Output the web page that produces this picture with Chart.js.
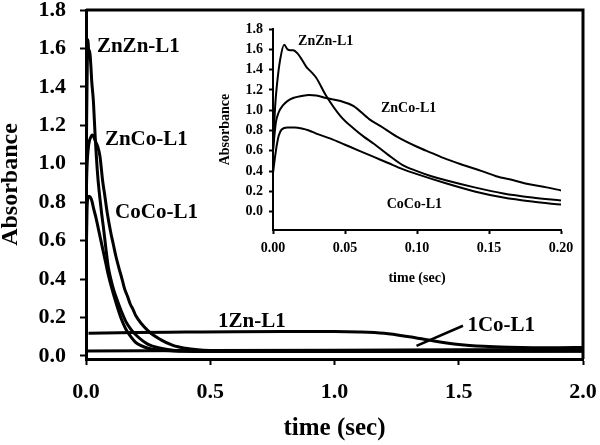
<!DOCTYPE html>
<html>
<head>
<meta charset="utf-8">
<script src="https://cdn.jsdelivr.net/npm/chart.js@4.4.1/dist/chart.umd.min.js"></script>
<style>
  html, body { margin: 0; padding: 0; background: #fff; }
  #wrap { position: relative; width: 600px; height: 445px; }
  #main { position: absolute; left: 0; top: 0; }
  #inset { position: absolute; left: 215px; top: 10px; }
</style>
</head>
<body>
<div id="wrap">
  <canvas id="main" width="600" height="445"></canvas>
  <canvas id="inset" width="360" height="285"></canvas>
</div>
<script>
// time (sec) / absorbance
const znznTime = [0, 0.0015, 0.0026, 0.005, 0.0078, 0.01, 0.012, 0.014, 0.017, 0.02, 0.023, 0.027, 0.03, 0.037, 0.047, 0.056, 0.063, 0.07, 0.08, 0.09, 0.1, 0.11, 0.12, 0.14, 0.16, 0.18, 0.2, 0.25, 0.3, 0.35, 0.4, 0.5, 1.0, 1.5, 2.0]
const znznAbs = [0.6, 1.04, 1.23, 1.5, 1.645, 1.6, 1.59, 1.59, 1.56, 1.5, 1.43, 1.37, 1.32, 1.14, 0.94, 0.82, 0.74, 0.67, 0.56, 0.46, 0.4, 0.35, 0.31, 0.24, 0.18, 0.14, 0.11, 0.06, 0.04, 0.03, 0.026, 0.024, 0.023, 0.024, 0.025]

const zncoTime = [0, 0.002, 0.004, 0.007, 0.01, 0.014, 0.02, 0.025, 0.03, 0.037, 0.047, 0.056, 0.067, 0.075, 0.086, 0.1, 0.11, 0.12, 0.132, 0.145, 0.155, 0.167, 0.178, 0.19, 0.2, 0.25, 0.3, 0.35, 0.4, 0.45, 0.5, 0.6, 1.0, 1.5, 2.0]
const zncoAbs = [0.6, 0.88, 0.98, 1.05, 1.09, 1.12, 1.14, 1.15, 1.145, 1.12, 1.09, 1.04, 0.91, 0.84, 0.74, 0.64, 0.58, 0.52, 0.46, 0.4, 0.35, 0.31, 0.27, 0.24, 0.21, 0.13, 0.085, 0.055, 0.04, 0.032, 0.028, 0.025, 0.024, 0.025, 0.026]

const cocoTime = [0, 0.002, 0.004, 0.006, 0.01, 0.015, 0.02, 0.025, 0.03, 0.04, 0.05, 0.06, 0.07, 0.08, 0.09, 0.1, 0.12, 0.14, 0.16, 0.18, 0.2, 0.25, 0.3, 0.35, 0.4, 0.5, 1.0, 1.5, 2.0]
const cocoAbs = [0.38, 0.6, 0.75, 0.81, 0.83, 0.83, 0.82, 0.8, 0.77, 0.72, 0.66, 0.6, 0.54, 0.48, 0.42, 0.37, 0.28, 0.2, 0.14, 0.1, 0.07, 0.04, 0.03, 0.026, 0.024, 0.023, 0.023, 0.024, 0.025]

const oneZnTime = [0.01, 0.2, 0.4, 0.6, 0.8, 1.0, 1.1, 1.2, 1.3, 1.4, 1.5, 1.6, 1.7, 1.8, 1.9, 2.0]
const oneZnAbs = [0.118, 0.122, 0.124, 0.126, 0.127, 0.127, 0.125, 0.118, 0.1, 0.078, 0.06, 0.05, 0.045, 0.043, 0.043, 0.044]

const oneCoTime = [0, 0.5, 1.0, 1.5, 2.0]
const oneCoAbs = [0.026, 0.028, 0.03, 0.032, 0.034]

const mainYTicks = [0, 0.2, 0.4, 0.6, 0.8, 1.0, 1.2, 1.4, 1.6, 1.8]
const mainXTicks = [0, 0.5, 1.0, 1.5, 2.0]
const insetYTicks = [0, 0.2, 0.4, 0.6, 0.8, 1.0, 1.2, 1.4, 1.6, 1.8]
const insetXTicks = [0, 0.05, 0.1, 0.15, 0.2]

const serif = "'Liberation Serif', 'Times New Roman', serif"

const toPoints = (xs, ys, maxX = Infinity) =>
  xs.map((x, i) => ({ x: x, y: ys[i] })).filter((p) => p.x <= maxX)

const series = [
  ["ZnZn-L1", znznTime, znznAbs, true],
  ["ZnCo-L1", zncoTime, zncoAbs, true],
  ["CoCo-L1", cocoTime, cocoAbs, true],
  ["1Zn-L1", oneZnTime, oneZnAbs, false],
  ["1Co-L1", oneCoTime, oneCoAbs, false],
]

const makeDatasets = (maxX, width, inset) =>
  series
    .filter((d) => !inset || d[3])
    .map(([label, xs, ys]) => ({
      label: label,
      data: toPoints(xs, ys, maxX),
      borderColor: "#000",
      borderWidth: width,
      pointRadius: 0,
      cubicInterpolationMode: "monotone",
      fill: false,
    }))

// text labels placed in data units
const textLabels = {
  id: "textLabels",
  afterDatasetsDraw(chart, args, opts) {
    const { ctx, scales } = chart
    ctx.save()
    ctx.fillStyle = "#000"
    ctx.strokeStyle = "#000"
    ctx.font = opts.font
    ctx.textAlign = "left"
    ctx.textBaseline = "middle"
    opts.items.forEach((item) => {
      ctx.fillText(item.text, scales.x.getPixelForValue(item.x), scales.y.getPixelForValue(item.y))
    })
    ;(opts.leaders || []).forEach((l) => {
      ctx.lineWidth = 2.5
      ctx.beginPath()
      ctx.moveTo(scales.x.getPixelForValue(l[0]), scales.y.getPixelForValue(l[1]))
      ctx.lineTo(scales.x.getPixelForValue(l[2]), scales.y.getPixelForValue(l[3]))
      ctx.stroke()
    })
    if (opts.frame) {
      const a = chart.chartArea
      ctx.lineWidth = 3
      ctx.beginPath()
      ctx.moveTo(a.left, a.top)
      ctx.lineTo(a.right, a.top)
      ctx.lineTo(a.right, a.bottom)
      ctx.stroke()
    }
    ctx.restore()
  },
}

const axisOpts = (ticks, fontSize, tickLen, pad, border, fmt) => ({
  type: "linear",
  afterBuildTicks: (axis) => {
    axis.ticks = ticks.map((v) => ({ value: v }))
  },
  border: { display: true, color: "#000", width: border },
  grid: { drawOnChartArea: false, drawTicks: true, tickLength: tickLen, tickWidth: 2, tickColor: "#000" },
  ticks: {
    color: "#000",
    padding: pad,
    maxRotation: 0,
    font: { family: serif, size: fontSize, weight: "bold" },
    callback: (v) => Number(v).toFixed(fmt),
  },
})

// fixed axis sizes, no extra room for overhanging labels
const fixHeight = (h) => (s) => {
  s.height = h
  s.paddingLeft = 0
  s.paddingRight = 0
}
const fixWidth = (w) => (s) => {
  s.width = w
  s.paddingTop = 0
  s.paddingBottom = 0
}

Chart.defaults.animation = false

const mainX = axisOpts(mainXTicks, 22, 6, 14, 3, 1)
mainX.min = 0
mainX.max = 2
mainX.afterFit = fixHeight(86)
mainX.title = { display: true, text: "time (sec)", color: "#000", padding: { top: 0, bottom: 1 }, font: { family: serif, size: 25, weight: "bold", lineHeight: 1.2 } }

const mainY = axisOpts(mainYTicks, 22, 6, 14, 3, 1)
mainY.min = -0.016
mainY.max = 1.8
mainY.afterFit = fixWidth(86)
mainY.title = { display: true, text: "Absorbance", color: "#000", padding: { top: 0, bottom: 0 }, font: { family: serif, size: 24, weight: "bold", lineHeight: 0.9 } }

new Chart(document.getElementById("main"), {
  type: "line",
  data: { datasets: makeDatasets(2, 3, false) },
  options: {
    responsive: false,
    layout: { padding: { top: 10, right: 17, left: 0, bottom: 0 } },
    plugins: {
      legend: { display: false },
      tooltip: { enabled: false },
      textLabels: {
        font: "bold 21px " + serif,
        frame: true,
        items: [
          { text: "ZnZn-L1", x: 0.044, y: 1.61 },
          { text: "ZnCo-L1", x: 0.076, y: 1.128 },
          { text: "CoCo-L1", x: 0.117, y: 0.747 },
          { text: "1Zn-L1", x: 0.531, y: 0.178 },
          { text: "1Co-L1", x: 1.535, y: 0.157 },
        ],
        leaders: [[1.33, 0.052, 1.517, 0.157]],
      },
    },
    scales: { x: mainX, y: mainY },
  },
  plugins: [textLabels],
})

const insetX = axisOpts(insetXTicks, 14, 4, 6, 2, 2)
insetX.min = 0
insetX.max = 0.2
insetX.afterFit = fixHeight(65)
insetX.title = { display: true, text: "time (sec)", color: "#000", padding: { top: 0, bottom: 8 }, font: { family: serif, size: 14, weight: "bold", lineHeight: 1.2 } }

const insetY = axisOpts(insetYTicks, 14, 4, 6, 2, 1)
insetY.min = -0.18
insetY.max = 1.8
insetY.afterFit = fixWidth(58)
insetY.title = { display: true, text: "Absorbance", color: "#000", padding: { top: 2, bottom: 0 }, font: { family: serif, size: 14, weight: "bold", lineHeight: 1.2 } }

new Chart(document.getElementById("inset"), {
  type: "line",
  data: { datasets: makeDatasets(0.2, 2, true) },
  options: {
    responsive: false,
    layout: { padding: { top: 19, right: 14, left: 0, bottom: 0 } },
    plugins: {
      legend: { display: false },
      tooltip: { enabled: false },
      textLabels: {
        font: "bold 14px " + serif,
        items: [
          { text: "ZnZn-L1", x: 0.0174, y: 1.675 },
          { text: "ZnCo-L1", x: 0.075, y: 1.015 },
          { text: "CoCo-L1", x: 0.079, y: 0.069 },
        ],
      },
    },
    scales: { x: insetX, y: insetY },
  },
  plugins: [textLabels],
})
</script>
</body>
</html>
